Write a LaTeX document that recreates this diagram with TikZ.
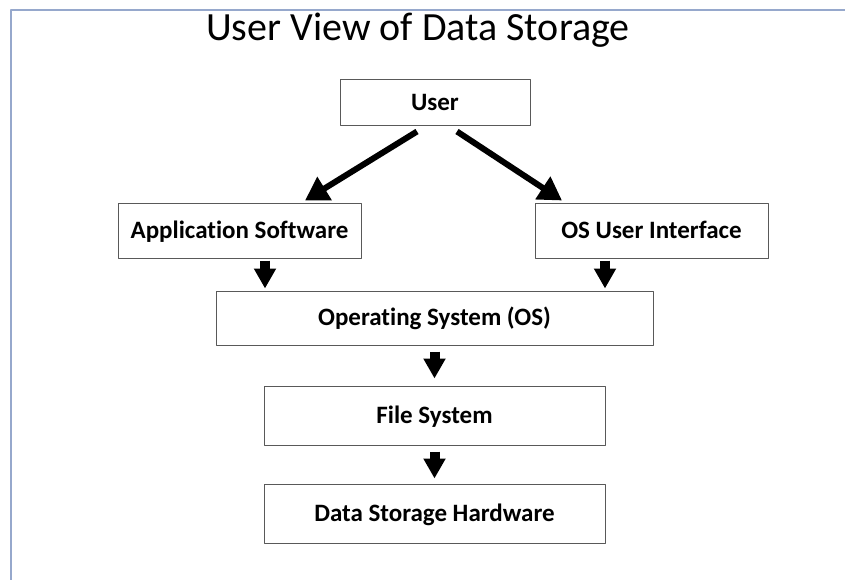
\documentclass[tikz,border=0pt]{standalone}
\usepackage{fontspec}
\setmainfont{Carlito}[Ligatures=NoCommon]
\usetikzlibrary{arrows.meta}
\definecolor{framecol}{RGB}{150,168,204}
\tikzset{
  box/.style={draw=black!65, line width=1pt, fill=white, inner sep=0pt,
    text height=15pt, text depth=0pt,
    font=\fontsize{25}{28}\selectfont\bfseries},
  bigarrow/.style={line width=6pt, -{Triangle[width=26pt,length=23pt]}},
  smallarrow/.style={line width=10pt, -{Triangle[width=21pt,length=20pt]}},
}
\begin{document}
\begin{tikzpicture}[x=1pt, y=-1pt, line join=round]
	\useasboundingbox (0,0) rectangle (845,580);
	\draw[framecol, line width=2pt] (845,10) -- (11,10) -- (11,580);
	\node[font=\fontsize{40}{44}\selectfont] (title) at (418,30) {User View of Data Storage};
	% the boxes
	\node[box, minimum width=190pt, minimum height=46pt] (user) at (435,103) {User};
	\node[box, minimum width=243pt, minimum height=55pt] (app) at (239.5,230.5) {Application Software};
	\node[box, minimum width=233pt, minimum height=55pt] (osui) at (651.5,230.5) {OS User Interface};
	\node[box, minimum width=437pt, minimum height=54pt] (os) at (434.5,318) {Operating System (OS)};
	\node[box, minimum width=341pt, minimum height=59pt] (fs) at (434.5,415.5) {File System};
	\node[box, minimum width=341pt, minimum height=59pt] (dsh) at (434.5,513.5) {Data Storage Hardware};
	% arrows
	\draw[bigarrow] ([xshift=-18pt,yshift=-5pt]user.south) -- ([xshift=65.5pt,yshift=2pt]app.north);
	\draw[bigarrow] ([xshift=22pt,yshift=-5pt]user.south) -- ([xshift=-89.5pt,yshift=2pt]osui.north);
	\draw[smallarrow] ([xshift=25.5pt,yshift=-2pt]app.south) -- ([xshift=25.5pt,yshift=2pt]app.south |- os.north);
	\draw[smallarrow] ([xshift=-46.5pt,yshift=-2pt]osui.south) -- ([xshift=-46.5pt,yshift=2pt]osui.south |- os.north);
	\draw[smallarrow] ([yshift=-6pt]os.south) -- ([yshift=7pt]fs.north);
	\draw[smallarrow] ([yshift=-6pt]fs.south) -- ([yshift=5pt]dsh.north);
\end{tikzpicture}
\end{document}
